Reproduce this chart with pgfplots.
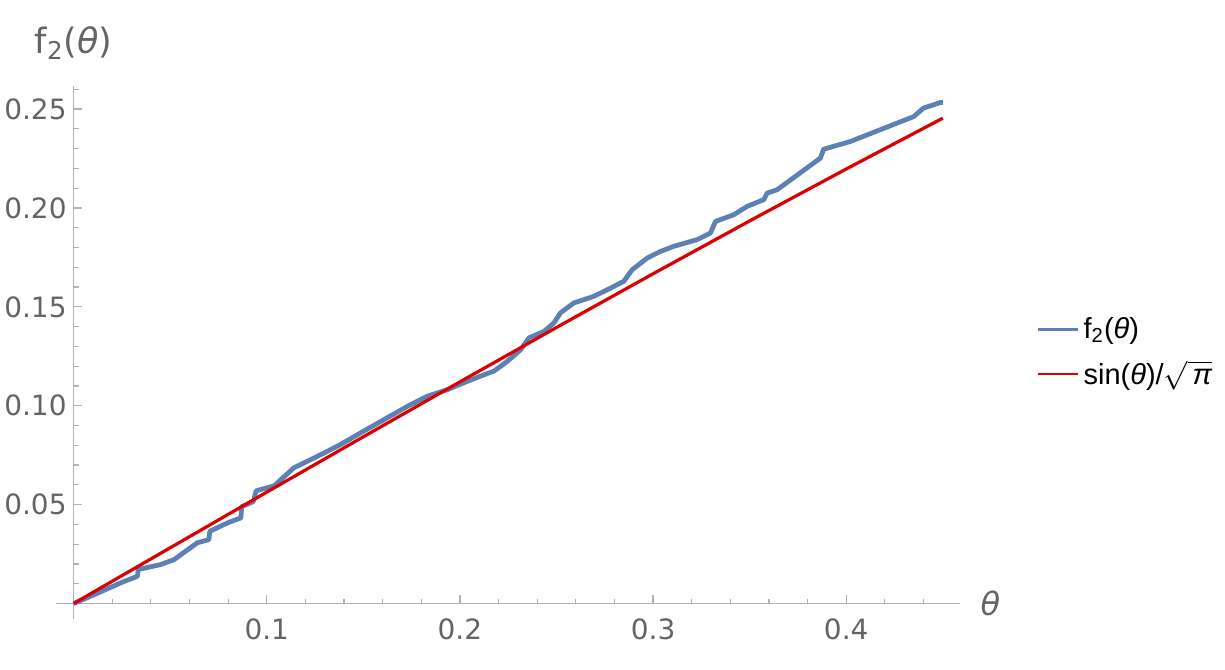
\documentclass[border=0pt]{standalone}
\usepackage{pgfplots}
\pgfplotsset{compat=1.18}
\usepackage{fontspec}
\setmainfont{DejaVu Sans}
\newfontfamily\arialf{Liberation Sans}
\definecolor{mblue}{rgb}{0.368417,0.506779,0.709798}
\definecolor{mred}{RGB}{220,0,0}
\definecolor{tickgray}{RGB}{100,100,100}
\definecolor{axgray}{RGB}{178,178,178}

\begin{document}
\begin{tikzpicture}
\begin{axis}[
  scale only axis, width=452.3pt, height=266.9pt,
  xmin=-0.009, xmax=0.459, ymin=-0.008, ymax=0.2617,
  axis lines=middle,
  axis line style={axgray, line width=0.6pt, -},
  major tick length=0pt, minor tick length=0pt,
  xtick={0.1,0.2,0.3,0.4}, xticklabels={0.1,0.2,0.3,0.4},
  ytick={0.05,0.10,0.15,0.20,0.25}, yticklabels={0.05,0.10,0.15,0.20,0.25},
  ticklabel style={font=\fontsize{14}{16}\selectfont, text=tickgray},
  xticklabel style={yshift=-4pt},
  clip=false,
  legend style={at={(1.078,0.5)}, anchor=west, draw=none, fill=none,
    font=\arialf\fontsize{14.5}{17}\selectfont, row sep=5.5pt},
  legend cell align=left,
  legend image code/.code={\draw[#1, line width=1.3pt] (-5pt,0pt) -- (15pt,0pt);},
]
% tick marks on the inner side, as Mathematica draws them
\pgfplotsinvokeforeach{0.1,0.2,0.3,0.4}{
  \draw[axgray, line width=0.6pt] (axis cs:#1,0) -- ++(0pt,4.2pt);}
\pgfplotsinvokeforeach{0.02,0.04,0.06,0.08,0.12,0.14,0.16,0.18,0.22,0.24,0.26,0.28,0.32,0.34,0.36,0.38,0.42,0.44}{
  \draw[axgray, line width=0.6pt] (axis cs:#1,0) -- ++(0pt,2.5pt);}
\pgfplotsinvokeforeach{0.05,0.10,0.15,0.20,0.25}{
  \draw[axgray, line width=0.6pt] (axis cs:0,#1) -- ++(4.2pt,0pt);}
\pgfplotsinvokeforeach{0.01,0.02,0.03,0.04,0.06,0.07,0.08,0.09,0.11,0.12,0.13,0.14,0.16,0.17,0.18,0.19,0.21,0.22,0.23,0.24,0.26}{
  \draw[axgray, line width=0.6pt] (axis cs:0,#1) -- ++(2.5pt,0pt);}
% f2(theta)
\addplot[mblue, line width=2.4pt, line join=round] coordinates {
  (0,0)(0.0107,0.0045)(0.0245,0.0105)(0.033,0.0138)(0.0335,0.0172)(0.045,0.0197)
  (0.052,0.0222)(0.064,0.0307)(0.0700,0.0323)(0.0705,0.0365)(0.0797,0.0408)
  (0.0866,0.0433)(0.0870,0.0490)(0.093,0.0515)(0.0945,0.0570)(0.1038,0.0595)
  (0.114,0.0686)(0.128,0.0753)(0.138,0.0803)(0.1486,0.0863)(0.1607,0.0930)
  (0.1728,0.0997)(0.183,0.1048)(0.1935,0.1081)(0.2004,0.1110)(0.2107,0.1150)
  (0.2176,0.1175)(0.2245,0.1224)(0.2314,0.1283)(0.2357,0.1343)(0.2435,0.1376)
  (0.2486,0.1418)(0.252,0.1469)(0.259,0.1520)(0.2693,0.1553)(0.278,0.1595)
  (0.2848,0.1629)(0.2892,0.1688)(0.297,0.1747)(0.3038,0.1780)(0.3107,0.1806)
  (0.3228,0.1840)(0.3297,0.1873)(0.3323,0.1932)(0.3418,0.1966)(0.3487,0.2008)
  (0.3573,0.2042)(0.359,0.2075)(0.3642,0.2092)(0.3866,0.2252)(0.3883,0.2297)
  (0.4021,0.2336)(0.4349,0.2462)(0.44,0.2505)(0.4487,0.2533)(0.45,0.2533)
};
\addlegendentry{f\textsubscript{2}(\textit{θ})}
% sin(theta)/sqrt(pi)
\addplot[mred, line width=1.6pt] coordinates {
  (0,0)(0.05,0.028198)(0.1,0.056325)(0.15,0.084312)(0.2,0.112087)
  (0.25,0.139583)(0.3,0.166731)(0.35,0.193460)(0.4,0.219707)(0.45,0.245404)
};
\addlegendentry{sin(\textit{θ})/$\sqrt{\mbox{\arialf\itshape\,π}}$}
\node[anchor=south, inner sep=0pt, font=\fontsize{17.5}{20}\selectfont, text=tickgray, yshift=13pt]
  at (axis cs:0,0.2617) {f\textsubscript{2}(\textit{θ})};
\node[anchor=west, inner sep=0pt, font=\fontsize{16}{18}\selectfont, text=tickgray, xshift=10pt]
  at (axis cs:0.459,0) {\textit{θ}};
\coordinate (ll) at (rel axis cs:0,0);
\coordinate (ur) at (rel axis cs:1,1);
\end{axis}
\pgfresetboundingbox
\path ([shift={(-28.15pt,-25.1pt)}]ll) rectangle ([shift={(132.5pt,43pt)}]ur);
\end{tikzpicture}
\end{document}
